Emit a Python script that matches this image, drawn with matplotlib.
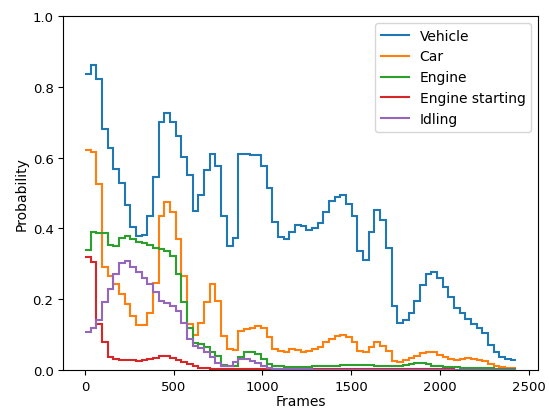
import matplotlib
matplotlib.use('Agg')
import matplotlib.pyplot as plt
import numpy as np

hop = 32  # frames per step
vehicle = [0.837, 0.862, 0.823, 0.68, 0.628, 0.569, 0.527, 0.466, 0.404, 0.379,
           0.381, 0.435, 0.546, 0.70, 0.725, 0.70, 0.661, 0.602, 0.55, 0.449,
           0.495, 0.564, 0.611, 0.575, 0.435, 0.351, 0.372, 0.611, 0.609, 0.607,
           0.607, 0.576, 0.515, 0.418, 0.376, 0.370, 0.391, 0.41, 0.407, 0.396,
           0.402, 0.414, 0.447, 0.478, 0.488, 0.494, 0.47, 0.436, 0.337, 0.31,
           0.39, 0.452, 0.425, 0.345, 0.182, 0.134, 0.14, 0.16, 0.195, 0.24,
           0.27, 0.277, 0.259, 0.235, 0.205, 0.175, 0.16, 0.145, 0.13, 0.12,
           0.105, 0.07, 0.05, 0.037, 0.03, 0.027]
car = [0.622, 0.616, 0.525, 0.29, 0.265, 0.243, 0.214, 0.186, 0.153, 0.128,
       0.128, 0.16, 0.247, 0.435, 0.476, 0.447, 0.37, 0.265, 0.13, 0.098,
       0.134, 0.191, 0.243, 0.196, 0.095, 0.06, 0.057, 0.11, 0.116, 0.12,
       0.123, 0.118, 0.092, 0.06, 0.053, 0.052, 0.06, 0.057, 0.052, 0.055,
       0.058, 0.064, 0.08, 0.087, 0.095, 0.099, 0.092, 0.078, 0.055, 0.05,
       0.064, 0.078, 0.069, 0.055, 0.026, 0.024, 0.029, 0.033, 0.039, 0.048,
       0.052, 0.05, 0.042, 0.036, 0.031, 0.028, 0.031, 0.033, 0.031, 0.028,
       0.026, 0.017, 0.01, 0.008, 0.006, 0.005]
engine = [0.339, 0.39, 0.388, 0.386, 0.354, 0.351, 0.374, 0.379, 0.37, 0.363,
          0.358, 0.354, 0.346, 0.341, 0.337, 0.322, 0.271, 0.191, 0.12, 0.075,
          0.074, 0.066, 0.052, 0.039, 0.015, 0.01, 0.012, 0.038, 0.051, 0.052,
          0.044, 0.03, 0.016, 0.01, 0.01, 0.009, 0.009, 0.009, 0.009, 0.009,
          0.01, 0.01, 0.011, 0.012, 0.012, 0.013, 0.014, 0.015, 0.014, 0.013,
          0.013, 0.012, 0.011, 0.011, 0.01, 0.011, 0.013, 0.017, 0.019, 0.019,
          0.016, 0.012, 0.01, 0.009, 0.008, 0.008, 0.007, 0.007, 0.006, 0.006,
          0.005, 0.005, 0.004, 0.004, 0.003, 0.003]
engine_starting = [0.32, 0.305, 0.13, 0.078, 0.036, 0.031, 0.029, 0.028, 0.027, 0.026,
                   0.027, 0.031, 0.035, 0.04, 0.04, 0.035, 0.028, 0.022, 0.016, 0.01,
                   0.007, 0.005, 0.004, 0.003, 0.003, 0.002, 0.002, 0.002, 0.002, 0.002,
                   0.002, 0.002, 0.002, 0.002, 0.002, 0.002, 0.002, 0.002, 0.002, 0.002,
                   0.002, 0.002, 0.003, 0.003, 0.003, 0.003, 0.003, 0.003, 0.003, 0.003,
                   0.003, 0.003, 0.003, 0.003, 0.003, 0.003, 0.003, 0.004, 0.004, 0.004,
                   0.003, 0.003, 0.002, 0.002, 0.002, 0.001, 0.001, 0.001, 0.001, 0.001,
                   0.001, 0.001, 0.001, 0.001, 0.001, 0.001]
idling = [0.106, 0.118, 0.142, 0.191, 0.23, 0.272, 0.302, 0.308, 0.292, 0.276,
          0.261, 0.244, 0.221, 0.196, 0.19, 0.181, 0.167, 0.133, 0.087, 0.069,
          0.061, 0.05, 0.036, 0.02, 0.012, 0.012, 0.022, 0.031, 0.031, 0.025,
          0.02, 0.01, 0.006, 0.004, 0.003, 0.002, 0.002, 0.002, 0.002, 0.002,
          0.001, 0.001, 0.001, 0.001, 0.001, 0.001, 0.001, 0.001, 0.001, 0.001,
          0.001, 0.001, 0.001, 0.001, 0.001, 0.001, 0.001, 0.001, 0.001, 0.001,
          0.001, 0.001, 0.001, 0.001, 0.001, 0.001, 0.001, 0.001, 0.001, 0.001,
          0.001, 0.001, 0.001, 0.001, 0.001, 0.001]
labels = ['Vehicle', 'Car', 'Engine', 'Engine starting', 'Idling']

edges = np.arange(len(vehicle) + 1) * hop

fig = plt.figure(figsize=(5.49, 4.10), dpi=100)
ax = fig.add_axes([0.1153, 0.0951, 0.8647, 0.8634])
for vals, lab in zip([vehicle, car, engine, engine_starting, idling], labels):
    ax.stairs(vals, edges, baseline=None, label=lab, linewidth=1.5)
ax.set_ylim(0, 1)
ax.set_xlim(edges[0] - 0.05 * edges[-1], edges[-1] * 1.05)
ax.tick_params(labelsize=9.5)
ax.set_xlabel('Frames', fontsize=10, labelpad=1)
ax.set_ylabel('Probability', fontsize=10, labelpad=3)
ax.legend(loc='upper right', fontsize=10)
fig.savefig('out.png')
